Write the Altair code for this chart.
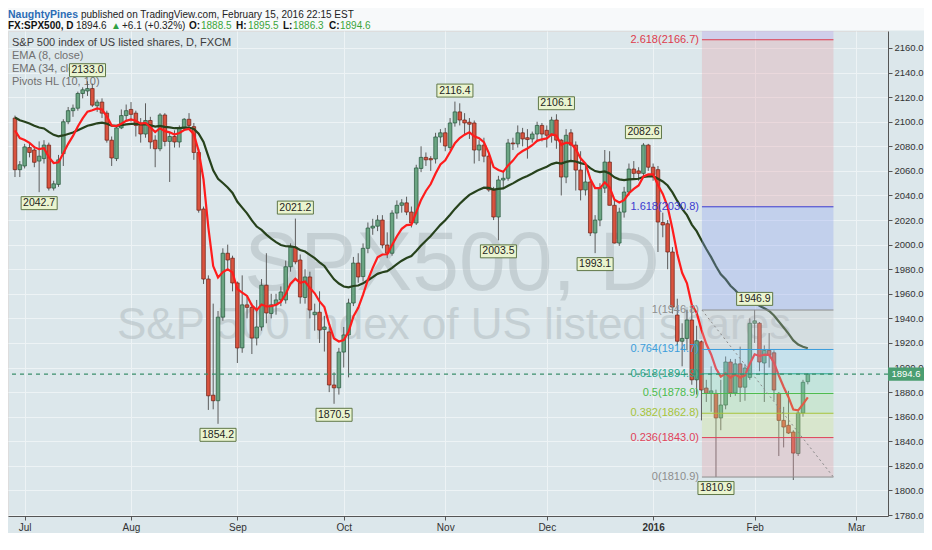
import altair as alt
import pandas as pd

# FX:SPX500 daily bars (FXCM) from left to right
opens = [2103, 2061, 2064, 2079, 2077, 2068, 2070, 2081, 2046, 2049,
         2074, 2100, 2109, 2111, 2123, 2125, 2127, 2113, 2116, 2107,
         2085, 2070, 2095, 2105, 2110, 2107, 2099, 2090, 2101, 2085,
         2078, 2105.5, 2084, 2088, 2083.5, 2095, 2102, 2096, 2075, 2029,
         1972, 1877.5, 1873, 1941, 1993, 1989, 1968.8, 1916, 1951, 1949,
         1924, 1933, 1967, 1944, 1951, 1955, 1955, 1982, 1998, 1987.5,
         1957, 1973.7, 1943, 1945, 1931, 1929, 1885.8, 1883.5, 1912.6, 1926.5,
         1952.5, 1985, 1974, 1997, 2013.5, 2015, 2020, 1999.7, 1993, 2025.7,
         2032, 2034, 2026.5, 2017.6, 2062, 2071, 2070, 2069.7, 2087.6, 2091,
         2079, 2099, 2108, 2101.4, 2099.6, 2099, 2077, 2081, 2072, 2044.5,
         2022.5, 2052.6, 2054, 2082.7, 2082, 2091, 2087, 2086, 2090, 2097,
         2093, 2089, 2101.4, 2085, 2055, 2091, 2081, 2060.7, 2044.5, 2051,
         2009.5, 2020, 2046, 2067.2, 2032, 2001.3, 2026.5, 2042.8, 2061.5, 2060,
         2058, 2081, 2063, 2061, 2018, 2017, 1994, 1942.7, 1921.4, 1923.7,
         1938.7, 1890, 1921, 1883.3, 1879, 1879, 1859, 1869.5, 1904.5, 1879.3,
         1903, 1884, 1892, 1936, 1936, 1903.7, 1914, 1912, 1879, 1857,
         1853, 1847.5, 1830, 1863, 1888.5]
highs = [2105, 2068, 2082, 2083, 2080, 2084, 2085, 2083, 2052, 2073,
         2102, 2112, 2114, 2124.5, 2128, 2133, 2131, 2118, 2119, 2109,
         2088, 2097, 2110, 2114, 2116, 2109, 2103, 2115, 2104, 2089,
         2107, 2107, 2091, 2093, 2097, 2103, 2107, 2099, 2078, 2031,
         1975, 1952, 1946, 1997, 2000, 1991, 1970, 1975, 1958, 1952,
         1955, 1972, 1993, 1960, 1960, 1966, 1987, 2001, 2021.2, 1992,
         1980, 1978, 1952, 1962, 1942, 1933, 1896, 1916, 1933, 1956,
         1990, 1993, 2001, 2018, 2021, 2024, 2024, 2010, 2028, 2036,
         2037, 2039, 2031, 2065, 2080, 2075, 2072, 2091, 2094, 2095,
         2103, 2116.4, 2115, 2107, 2103, 2101, 2085, 2087, 2074, 2047,
         2056, 2060, 2086, 2087, 2097, 2095, 2094, 2092, 2100, 2099,
         2097, 2104, 2106.1, 2086, 2094, 2094, 2084, 2076, 2066, 2054,
         2024, 2050, 2077, 2076, 2036, 2030, 2047, 2066, 2068, 2063,
         2082.6, 2082, 2066, 2064, 2026, 2020, 1998, 1956, 1936, 1947,
         1950, 1934, 1922, 1890, 1901, 1882, 1890, 1909, 1907, 1907,
         1917, 1903, 1940, 1946.9, 1937, 1918, 1928, 1914, 1880, 1868,
         1881, 1849, 1865, 1890, 1895.5]
lows = [2055, 2055, 2062, 2071, 2063, 2042.7, 2066, 2044, 2044, 2047,
        2064, 2098, 2104, 2109, 2119, 2121, 2112, 2108, 2103, 2083,
        2064, 2068, 2094, 2101, 2100, 2088, 2083, 2087, 2078, 2063,
        2076, 2080, 2051, 2079, 2079, 2093, 2094, 2069, 2026, 1968,
        1865.5, 1866, 1854.2, 1938, 1980, 1962, 1903.7, 1912, 1940, 1911,
        1918, 1930, 1936, 1940, 1943, 1950, 1952, 1978, 1984, 1952,
        1952, 1940, 1930, 1920, 1913, 1880, 1870.5, 1878, 1900, 1892,
        1950, 1969, 1970, 1993, 2008, 2011, 1997, 1989, 1991, 2021,
        2026, 2024, 2014, 2016, 2059, 2064, 2060, 2066, 2083, 2076,
        2077, 2096, 2097, 2090, 2086, 2066, 2068, 2067, 2043, 2020,
        2003.5, 2046, 2052, 2077, 2079, 2080, 2070, 2083, 2084, 2084,
        2079, 2083, 2078, 2040, 2050, 2068, 2044, 2036, 2040, 2007,
        1993.1, 2015, 2042, 2032, 2001, 1999, 2022, 2040, 2054, 2052,
        2056, 2060, 2052, 1994, 2006, 1980, 1944, 1918, 1901, 1914,
        1886, 1878, 1857, 1872, 1864, 1810.9, 1849, 1866, 1876, 1877,
        1872, 1873, 1890, 1920, 1897, 1872, 1900, 1873, 1828, 1835,
        1846, 1808.5, 1828, 1860, 1886.3]
closes = [2061, 2065, 2079.5, 2075, 2067, 2072, 2081, 2046, 2049.5, 2069,
          2100, 2109, 2111, 2123, 2126, 2127, 2113.5, 2116, 2107, 2085,
          2070.5, 2095, 2105, 2109, 2106, 2097, 2090, 2101, 2083.5, 2078,
          2105.5, 2084, 2088, 2083.5, 2095, 2102, 2097, 2075, 2028, 1972,
          1877, 1873, 1941, 1993, 1987.5, 1968.8, 1915.9, 1951, 1949, 1924,
          1933, 1967, 1944.4, 1951, 1955, 1961.5, 1982, 1998, 1986, 1957.4,
          1973.7, 1946.8, 1945, 1930.5, 1933, 1885.8, 1883.5, 1912.6, 1926.5, 1952.5,
          1985, 1973.7, 1997, 2013.5, 2015, 2020, 1999.7, 1993, 2025.7, 2032,
          2034, 2026.5, 2017.6, 2062.4, 2071, 2069, 2069, 2087.6, 2091, 2080.3,
          2099, 2108, 2101.4, 2099, 2098, 2077, 2081, 2072, 2044.5, 2022.5,
          2052.6, 2054, 2082.7, 2082, 2091, 2086, 2085.5, 2090, 2097, 2090,
          2089, 2101.4, 2085, 2055, 2089, 2081, 2060.7, 2044.5, 2051, 2009.5,
          2020, 2046, 2067.2, 2032, 2001.3, 2026.5, 2042.8, 2061.5, 2058, 2058,
          2081, 2063, 2057, 2018.4, 2016, 1994, 1949.2, 1921.4, 1923.7, 1938.7,
          1890, 1921.8, 1881.7, 1879, 1881, 1859, 1869.5, 1904.5, 1879.3, 1903,
          1884, 1899.6, 1936, 1938, 1904.5, 1914, 1910, 1881.7, 1857, 1851.6,
          1846.7, 1830.4, 1863, 1888, 1894.6]

# EMA values just before the first visible bar (read where the lines start)
ema8_start = 2102
ema34_start = 2106

month_idx = [2, 24, 46, 68, 89, 110, 132, 153, 174]
month_names = ["Jul", "Aug", "Sep", "Oct", "Nov", "Dec", "2016", "Feb", "Mar"]
price_ticks = list(range(1780, 2161, 20))

pivot_hi_idx = [15, 58, 91, 112, 130, 153]
pivot_hi_val = [2133.0, 2021.2, 2116.4, 2106.1, 2082.6, 1946.9]
pivot_lo_idx = [5, 42, 66, 100, 120, 145]
pivot_lo_val = [2042.7, 1854.2, 1870.5, 2003.5, 1993.1, 1810.9]

fib_ratios = ["0", "0.236", "0.382", "0.5", "0.618", "0.764", "1", "1.618", "2.618"]
fib_prices = [1810.9, 1843.0, 1862.8, 1878.9, 1894.9, 1914.7, 1946.8, 2030.8, 2166.7]
fib_line_colors = ["#8d8d8d", "#e0435a", "#a6c43a", "#4cbb4c", "#26a98e",
                   "#3b9ddb", "#8d8d8d", "#3b3bd0", "#dd3b4c"]
fib_band_colors = ["#e3a0a8", "#cfe28f", "#a6e0a0", "#8fdcbd", "#98d3ef",
                   "#c4c8ca", "#8d9ff0", "#e3a0a8", "#b59ae8"]
fib_x0, fib_x1 = 142.1, 169.3

legend_lines = ["S&P 500 index of US listed shares, D, FXCM", "EMA (8, close)",
                "EMA (34, close)", "Pivots HL (10, 10)"]

last_price = closes[-1]

X_DOM = [-0.41, 179.55]
Y_DOM = [1779.2, 2173.83]
W, H = 880, 485
FONT = "Liberation Sans"

# ---------------------------------------------------------------- data frames
bars = pd.DataFrame({"i": range(len(closes)), "open": opens, "high": highs,
                     "low": lows, "close": closes})
bars["fill"] = ["#6ba583" if c >= o else "#d9533f" for o, c in zip(opens, closes)]
bars["edge"] = ["#24543a" if c >= o else "#6d1f14" for o, c in zip(opens, closes)]


def ema(values, n, prev):
    a = 2.0 / (n + 1)
    out = []
    for v in values:
        prev = a * v + (1 - a) * prev
        out.append(prev)
    return out


bars["ema8"] = ema(closes, 8, ema8_start)
bars["ema34"] = ema(closes, 34, ema34_start)

piv_hi = pd.DataFrame({"i": pivot_hi_idx, "p": pivot_hi_val})
piv_lo = pd.DataFrame({"i": pivot_lo_idx, "p": pivot_lo_val})
for d in (piv_hi, piv_lo):
    d["t"] = d["p"].map(lambda v: f"{v:.1f}")

tops = fib_prices[1:] + [Y_DOM[1]]
fib = pd.DataFrame({"lo": fib_prices, "hi": tops, "band": fib_band_colors,
                    "line": fib_line_colors,
                    "label": [f"{r}({p:.1f})" for r, p in zip(fib_ratios, fib_prices)],
                    "x0": fib_x0, "x1": fib_x1})
diag = pd.DataFrame({"x0": [fib_x0], "x1": [fib_x1],
                     "y0": [fib_prices[6]], "y1": [fib_prices[0]]})
last = pd.DataFrame({"p": [last_price], "t": [f"{last_price:.1f}"]})

xs = alt.Scale(domain=X_DOM, nice=False, zero=False)
ys = alt.Scale(domain=Y_DOM, nice=False, zero=False)

label_expr = " : ".join(f"datum.value == {i} ? '{n}'" for i, n in zip(month_idx, month_names)) + " : ''"

# the same axis objects go on every layer so that they merge cleanly
x_axis = alt.Axis(values=month_idx, labelExpr=label_expr, title=None, grid=True,
                  gridColor="#edf3f5", tickSize=4, tickColor="#555", domainColor="#555",
                  labelFontSize=10, labelColor="#333", labelPadding=2, labelFlush=False,
                  labelFontWeight=alt.condition("datum.value == 132", alt.value("bold"), alt.value("normal")))
y_axis = alt.Axis(values=price_ticks, orient="right", format=".1f", title=None, grid=True,
                  gridColor="#edf3f5", tickSize=4, tickColor="#555", domainColor="#555",
                  labelFontSize=9.5, labelColor="#333", labelPadding=2, labelFlush=False)


def X(field):
    return alt.X(field, scale=xs, axis=x_axis)


def Y(field):
    return alt.Y(field, scale=ys, axis=y_axis)


def one(**kw):
    return alt.Chart(pd.DataFrame([kw]))


# --------------------------------------------------------------- decorations
title_band = one(a=1).mark_rect(color="#f7f9fa").encode(
    x=alt.value(-2), x2=alt.value(W + 40), y=alt.value(-24), y2=alt.value(-0.5))

watermark = alt.layer(
    one(t="SPX500, D").mark_text(fontSize=84, color="#a9b4b8", opacity=0.45, font=FONT)
    .encode(x=alt.value(444), y=alt.value(234), text="t:N"),
    one(t="S&P 500 Index of US listed shares").mark_text(fontSize=44, color="#a9b4b8",
                                                         opacity=0.45, font=FONT)
    .encode(x=alt.value(446), y=alt.value(295), text="t:N"),
)

legend = alt.layer(*[
    one(t=t).mark_text(align="left", baseline="middle", fontSize=11, font=FONT,
                       color="#3c3c3c" if k == 0 else "#707070")
    .encode(x=alt.value(4), y=alt.value(12 + 13 * k), text="t:N")
    for k, t in enumerate(legend_lines)])

# --------------------------------------------------------------- candles
wicks = alt.Chart(bars).mark_rule(color="#5c5c5c", strokeWidth=1).encode(
    x=X("i:Q"), y=Y("low:Q"), y2="high:Q")
bodies = alt.Chart(bars).mark_bar(size=3.6, strokeWidth=0.7).encode(
    x=X("i:Q"), y=Y("open:Q"), y2="close:Q",
    color=alt.Color("fill:N", scale=None), stroke=alt.Stroke("edge:N", scale=None))

ema34_line = alt.Chart(bars).mark_line(color="#27421c", strokeWidth=2.2).encode(
    x=X("i:Q"), y=Y("ema34:Q"))
ema8_line = alt.Chart(bars).mark_line(color="#ff1c1c", strokeWidth=2.2).encode(
    x=X("i:Q"), y=Y("ema8:Q"))

# --------------------------------------------------------------- fibonacci
fib_bands = alt.Chart(fib).mark_rect(opacity=0.32).encode(
    x=X("x0:Q"), x2="x1:Q", y=Y("lo:Q"), y2="hi:Q",
    color=alt.Color("band:N", scale=None))
fib_lines = alt.Chart(fib).mark_rule(strokeWidth=1).encode(
    x=X("x0:Q"), x2="x1:Q", y=Y("lo:Q"),
    color=alt.Color("line:N", scale=None))
fib_text = alt.Chart(fib).mark_text(align="right", baseline="middle", dx=-3,
                                    fontSize=11, font=FONT).encode(
    x=X("x0:Q"), y=Y("lo:Q"), text="label:N",
    color=alt.Color("line:N", scale=None))
fib_diag = alt.Chart(diag).mark_rule(color="#8a8a8a", strokeDash=[2, 3], strokeWidth=1).encode(
    x=X("x0:Q"), x2="x1:Q", y=Y("y0:Q"), y2="y1:Q")

price_line = alt.Chart(last).mark_rule(color="#3b8f6c", strokeDash=[4, 4], strokeWidth=1.3).encode(
    y=Y("p:Q"))

# --------------------------------------------------------------- pivot labels
BOX = "M-1,-0.36L1,-0.36L1,0.36L-1,0.36Z"


def pivot_layer(d, off):
    box = alt.Chart(d).mark_point(shape=BOX, size=1300, filled=True, fill="#eaf4cf",
                                  stroke="#5f7748", strokeWidth=1, opacity=1,
                                  yOffset=off).encode(x=X("i:Q"), y=Y("p:Q"))
    txt = alt.Chart(d).mark_text(fontSize=10.5, color="#1e1e1e", baseline="middle",
                                 yOffset=off, font=FONT).encode(
        x=X("i:Q"), y=Y("p:Q"), text="t:N")
    return box + txt


pivots = pivot_layer(piv_hi, -11) + pivot_layer(piv_lo, 11)

tag = alt.layer(
    alt.Chart(last).mark_point(shape="M-1,-0.37L1,-0.37L1,0.37L-1,0.37Z", size=1300,
                               filled=True, fill="#4b9e71", opacity=1).encode(
        x=alt.value(W + 18), y=Y("p:Q")),
    alt.Chart(last).mark_text(fontSize=9.5, color="white", baseline="middle", font=FONT).encode(
        x=alt.value(W + 18), y=Y("p:Q"), text="t:N"),
)

# --------------------------------------------------------------- header text
L1, L2 = -13.5, -2.5
head = [
    ("NaughtyPines", 0, L1, "#2b6cb5", "bold", 10.5),
    ("published on TradingView.com, February 15, 2016 22:15 EST", 73, L1, "#222", "normal", 10),
    ("FX:SPX500, D", 0, L2, "#111", "bold", 10),
    ("1894.6", 68, L2, "#222", "normal", 10),
    ("▲", 103, L2, "#2ea043", "normal", 10),
    ("+6.1 (+0.32%)", 114, L2, "#222", "normal", 10),
    ("O:", 181, L2, "#111", "bold", 10),
    ("1888.5", 193, L2, "#3aa43a", "normal", 10),
    ("H:", 228, L2, "#111", "bold", 10),
    ("1895.5", 240, L2, "#3aa43a", "normal", 10),
    ("L:", 275, L2, "#111", "bold", 10),
    ("1886.3", 285, L2, "#3aa43a", "normal", 10),
    ("C:", 321, L2, "#111", "bold", 10),
    ("1894.6", 332, L2, "#3aa43a", "normal", 10),
]
header = alt.layer(*[
    one(t=t).mark_text(align="left", baseline="alphabetic", fontSize=s, color=c,
                       fontWeight=w, font=FONT).encode(x=alt.value(x), y=alt.value(y), text="t:N")
    for t, x, y, c, w, s in head])

chart = alt.layer(
    title_band, watermark, legend, wicks, bodies, ema34_line, ema8_line,
    fib_bands, fib_lines, fib_diag, fib_text, price_line, pivots, tag, header,
).properties(
    width=W, height=H,
    autosize=alt.AutoSizeParams(type="none"),
    padding={"left": 0, "top": 23, "right": 36, "bottom": 17},
    background="#dce7eb",
).configure_view(stroke="#8b979b", strokeWidth=1).configure(font=FONT)

chart.save("out.html", embed_options={"renderer": "svg", "actions": False})
